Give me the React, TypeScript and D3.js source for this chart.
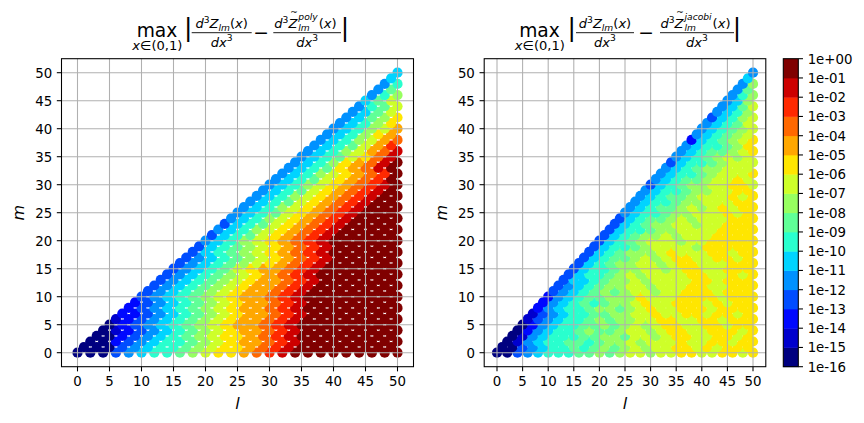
import React from "react";
import * as d3 from "d3";

const FONT = "'DejaVu Sans', 'Liberation Sans', sans-serif";

// Degree l and order m both run 0..50; only pairs with m <= l and l - m even exist.
const AXIS_TICKS = [0, 5, 10, 15, 20, 25, 30, 35, 40, 45, 50];

// Decade boundaries of the shared colour scale, lowest first.
const DECADE_LABELS = [
  "1e-16", "1e-15", "1e-14", "1e-13", "1e-12", "1e-11", "1e-10", "1e-09", "1e-08",
  "1e-07", "1e-06", "1e-05", "1e-04", "1e-03", "1e-02", "1e-01", "1e+00",
];

// One colour per decade band (jet colormap in 16 steps).
const BAND_COLORS = [
  "#000080", "#0000cd", "#0008ff", "#004dff", "#0091ff", "#00d4ff", "#29ffce", "#60ff97",
  "#97ff60", "#ceff29", "#ffe600", "#ffa700", "#ff6800", "#ff2900", "#cd0000", "#800000",
];

// Max error band of every (l, m): the row index is m, character j is l = m + 2j,
// and hex digit k means the error lies in [1e(k-16), 1e(k-15)).
const polyBands = [
  "00034566789aabcdefffffffff",
  "00034566789aabcdeffffffff",
  "00234566789abbcdeffffffff",
  "0023456789aabcdeffffffff",
  "0123456789abbcdeffffffff",
  "023456789abbcdeffffffff",
  "123456789abbcdeffffffff",
  "223456789abbcdefffffff",
  "23456789abbcdeffffffff",
  "23456789abbcdefffffff",
  "3456789abbcdeffffffff",
  "3456789abbcdefffffff",
  "3456789abbcdefffffff",
  "3456789abbcdeffffff",
  "3456789abcdefffffff",
  "345679abbcdeffffff",
  "3456789abcdeffffff",
  "3456789abcdefffff",
  "356789abcdeffffff",
  "356789abcdefffff",
  "45689abcdeffffff",
  "35679abcdefffff",
  "45689abcdefffff",
  "35679abcdeffff",
  "45689abcdeffff",
  "45679abcdefff",
  "45689abcdefff",
  "45679abcdeff",
  "45689abcdeff",
  "45679abcdef",
  "45689abcdef",
  "45679abcdf",
  "45689abcdf",
  "4567abcef",
  "4568abcef",
  "45679ace",
  "45689bce",
  "45679bd",
  "45689bc",
  "4568ab",
  "45689b",
  "4568a",
  "4578a",
  "4579",
  "4679",
  "579",
  "468",
  "47",
  "46",
  "5",
  "5",
];

const jacobiBands = [
  "003456667787899899aa99aa9a",
  "00345667678789899aa9a9aaa",
  "01456677678898999a99aa9aa",
  "0145666778879989aa99aa9a",
  "024566787789989aa99aaa9a",
  "02456677878989aa99aa9aa",
  "1345667878899aa99aa9aaa",
  "134566778899a99aa9aa9a",
  "24566788789a99aaa9aaaa",
  "2456767889a99aaa9a9aa",
  "245677888a999aaaa9aaa",
  "3456787899899aaa9aaa",
  "3456788998999aa99aaa",
  "3556788989999aa9aaa",
  "356678989999aa99a9a",
  "35667889989aa99aaa",
  "3567889989aa999aaa",
  "356778989aa99aa9a",
  "35678889a999aa9aa",
  "35667899998aaaaa",
  "35678999899aaaaa",
  "35678898999aaaa",
  "35667889999aaaa",
  "35678899899aaa",
  "35677898999aaa",
  "4566788999a9a",
  "456778989a9aa",
  "4566788999aa",
  "456778999a9a",
  "456678899aa",
  "35678899aa9",
  "45677899a9",
  "456678999a",
  "456788999",
  "356678999",
  "45678989",
  "4567789a",
  "456678a",
  "256789a",
  "456789",
  "456789",
  "45679",
  "35689",
  "4568",
  "4579",
  "458",
  "468",
  "47",
  "48",
  "5",
  "4",
];

type Pt = { l: number; m: number; k: number };

function toPoints(rows: string[]): Pt[] {
  const pts: Pt[] = [];
  rows.forEach((row, m) => {
    for (let j = 0; j < row.length; j++) {
      pts.push({ l: m + 2 * j, m, k: parseInt(row[j], 16) });
    }
  });
  return pts;
}

const TOP = 58.7;
const BOTTOM = 366.7;
const yScale = d3.scaleLinear().domain([-2.5, 52.5]).range([BOTTOM, TOP]);
const TICK_LEN = 4.67;
const GRID = "#b0b0b0";

function Panel({ x, bands, labelMx }: { x: d3.ScaleLinear<number, number>; bands: string[]; labelMx: number }) {
  const pts = toPoints(bands);
  const [x0, x1] = x.range();
  const cx = (x0 + x1) / 2;
  return (
    <g>
      {pts.map((p, i) => (
        <circle key={i} cx={x(p.l)} cy={yScale(p.m)} r={5.1} fill={BAND_COLORS[p.k]} />
      ))}
      {AXIS_TICKS.map((t) => (
        <line key={"gx" + t} x1={x(t)} x2={x(t)} y1={TOP} y2={BOTTOM} stroke={GRID} strokeWidth={1.07} />
      ))}
      {AXIS_TICKS.map((t) => (
        <line key={"gy" + t} x1={x0} x2={x1} y1={yScale(t)} y2={yScale(t)} stroke={GRID} strokeWidth={1.07} />
      ))}
      <rect x={x0} y={TOP} width={x1 - x0} height={BOTTOM - TOP} fill="none" stroke="#000" strokeWidth={1.07} />
      {AXIS_TICKS.map((t) => (
        <g key={"tx" + t}>
          <line x1={x(t)} x2={x(t)} y1={BOTTOM} y2={BOTTOM + TICK_LEN} stroke="#000" strokeWidth={1.07} />
          <text x={x(t)} y={386.3} textAnchor="middle" fontSize={13.33} fontFamily={FONT}>
            {t}
          </text>
        </g>
      ))}
      {AXIS_TICKS.map((t) => (
        <g key={"ty" + t}>
          <line x1={x0 - TICK_LEN} x2={x0} y1={yScale(t)} y2={yScale(t)} stroke="#000" strokeWidth={1.07} />
          <text x={x0 - 2 * TICK_LEN} y={yScale(t) + 4.9} textAnchor="end" fontSize={13.33} fontFamily={FONT}>
            {t}
          </text>
        </g>
      ))}
      <text x={cx} y={409} textAnchor="middle" fontSize={16} fontStyle="italic" fontFamily={FONT}>
        l
      </text>
      <text
        transform={`translate(${labelMx},${(TOP + BOTTOM) / 2}) rotate(-90)`}
        textAnchor="middle"
        fontSize={16}
        fontStyle="italic"
        fontFamily={FONT}
      >
        m
      </text>
    </g>
  );
}

type TitleLayout = {
  maxX: number;
  barL: number;
  f1: [number, number];
  minusX: number;
  f2: [number, number];
  barR: number;
  num2X: number;
  sup: string;
  supW: number;
};

const BIG = 18.67;
const MID = 13.07;
const SMALL = 9.15;

function Title({ t }: { t: TitleLayout }) {
  const c1 = (t.f1[0] + t.f1[1]) / 2;
  const c2 = (t.f2[0] + t.f2[1]) / 2;
  const zX = t.num2X + 0.635 * MID + 0.636 * SMALL;
  const lmW = 1.252 * SMALL;
  const it = { fontStyle: "italic" as const };
  const maxW = 2.179 * BIG;
  const subW = (0.592 + 0.667 + 0.39 + 0.636 + 0.318 + 0.636 + 0.39) * MID;
  const denom = (cx: number) => (
    <text x={cx} y={46.5} textAnchor="middle" fontSize={MID} fontFamily={FONT}>
      <tspan {...it}>dx</tspan>
      <tspan fontSize={SMALL} dy={-5.5}>3</tspan>
    </text>
  );
  return (
    <g fontFamily={FONT}>
      {/* operator with its limit set underneath */}
      <text fontSize={BIG}>
        <tspan x={t.maxX - maxW / 2} y={36.7}>max</tspan>
        <tspan x={t.maxX - 1 - subW / 2} y={49.5} fontSize={MID} {...it}>x</tspan>
        <tspan fontSize={MID}>∈(0,1)</tspan>
      </text>
      <text x={t.barL} y={35.7} textAnchor="middle" fontSize={25}>
        |
      </text>
      <text x={c1} y={28.2} textAnchor="middle" fontSize={MID}>
        <tspan {...it}>d</tspan>
        <tspan fontSize={SMALL} dy={-5.5}>3</tspan>
        <tspan {...it} dy={5.5}>Z</tspan>
        <tspan {...it} fontSize={SMALL} dy={2.3}>lm</tspan>
        <tspan dy={-2.3}>(</tspan>
        <tspan {...it}>x</tspan>
        <tspan>)</tspan>
      </text>
      <line x1={t.f1[0]} x2={t.f1[1]} y1={32.7} y2={32.7} stroke="#000" strokeWidth={0.9} />
      {denom(c1)}
      <text x={t.minusX} y={38.9} textAnchor="middle" fontSize={BIG}>
        −
      </text>
      <text x={t.num2X} y={28.2} fontSize={MID}>
        <tspan {...it}>d</tspan>
        <tspan fontSize={SMALL} dy={-5.5}>3</tspan>
        <tspan {...it} dy={5.5}>Z</tspan>
        <tspan {...it} fontSize={SMALL} dx={1} dy={-7.9}>{t.sup}</tspan>
        <tspan {...it} fontSize={SMALL} dx={-t.supW} dy={10.7}>lm</tspan>
        <tspan dx={t.supW - lmW + 1} dy={-2.8}>(</tspan>
        <tspan {...it}>x</tspan>
        <tspan>)</tspan>
      </text>
      <text x={zX + 5.5} y={14.6} textAnchor="middle" fontSize={9}>
        ~
      </text>
      <line x1={t.f2[0]} x2={t.f2[1]} y1={32.7} y2={32.7} stroke="#000" strokeWidth={0.9} />
      {denom(c2)}
      <text x={t.barR} y={35.7} textAnchor="middle" fontSize={25}>
        |
      </text>
    </g>
  );
}

function Colorbar() {
  const x0 = 783.3;
  const w = 15;
  const c = d3.scaleLinear().domain([0, 16]).range([BOTTOM, TOP]);
  return (
    <g>
      {BAND_COLORS.map((col, i) => (
        <rect key={i} x={x0} y={c(i + 1)} width={w} height={c(i) - c(i + 1) + 0.4} fill={col} />
      ))}
      <rect x={x0} y={TOP} width={w} height={BOTTOM - TOP} fill="none" stroke="#000" strokeWidth={1.07} />
      {DECADE_LABELS.map((lab, i) => (
        <g key={lab}>
          <line x1={x0 + w} x2={x0 + w + TICK_LEN} y1={c(i)} y2={c(i)} stroke="#000" strokeWidth={1.07} />
          <text x={x0 + w + 2 * TICK_LEN} y={c(i) + 4.9} fontSize={13.33} fontFamily={FONT}>
            {lab}
          </text>
        </g>
      ))}
    </g>
  );
}

export default function App() {
  const xLeft = d3.scaleLinear().domain([-2.5, 52.5]).range([61.5, 413.5]);
  const xRight = d3.scaleLinear().domain([-2.5, 52.5]).range([484.2, 765.8]);
  return (
    <svg
      width={864}
      height={423}
      viewBox="0 0 864 423"
      style={{ position: "absolute", left: 0, top: 0, background: "#fff" }}
    >
      <rect width={864} height={423} fill="#fff" />
      <Panel x={xLeft} bands={polyBands} labelMx={24} />
      <Panel x={xRight} bands={jacobiBands} labelMx={447} />
      <Title
        t={{
          maxX: 157,
          barL: 188.3,
          f1: [191.7, 251.7],
          minusX: 261,
          f2: [273.3, 341],
          barR: 345,
          num2X: 274.3,
          sup: "poly",
          supW: 2.117 * SMALL,
        }}
      />
      <Title
        t={{
          maxX: 539.5,
          barL: 571.7,
          f1: [576, 634],
          minusX: 646,
          f2: [660, 734],
          barR: 737,
          num2X: 660.5,
          sup: "jacobi",
          supW: 2.966 * SMALL,
        }}
      />
      <Colorbar />
    </svg>
  );
}
